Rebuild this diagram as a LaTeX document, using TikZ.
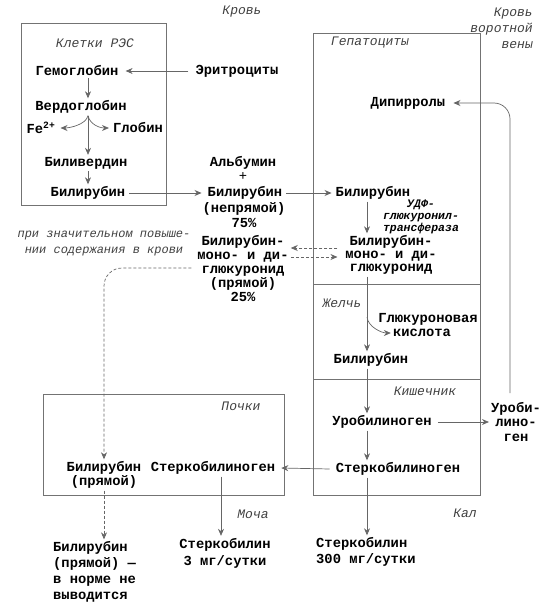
\documentclass[tikz,border=0pt]{standalone}
\usepackage{fontspec}
\setmainfont{Liberation Mono}
\usetikzlibrary{arrows.meta}
\newcommand\mybf{\fontsize{13.8}{14.5}\selectfont\bfseries}
\newcommand\mylab{\fontsize{13}{16}\selectfont\itshape}
\newcommand\mynote{\fontsize{12}{16}\selectfont\itshape}
\newcommand\myudf{\fontsize{11.5}{11.8}\selectfont\bfseries\itshape}
\tikzset{
  t/.style={font=\mybf, inner sep=2pt, align=center},
  lab/.style={font=\mylab, text=black!75, inner sep=1pt},
  box/.style={draw=black!55, line width=0.8pt},
  ln/.style={draw=black!60, line width=0.7pt},
  arr/.style={ln, -{Stealth[length=7pt,width=6pt]}},
  dsh/.style={arr, dash pattern=on 3pt off 2pt},
}
\begin{document}
\begin{tikzpicture}[x=1pt,y=-1pt]
\useasboundingbox (0,0) rectangle (542,613);

% boxes
\draw[box] (21,23) rectangle (166,205);
\draw[box] (313,33) rectangle (480,495);
\draw[box] (313,284) -- (480,284);
\draw[box] (313,379) -- (480,379);
\draw[box] (43,394) rectangle (284,495);

% labels
\node[lab] (krov) at (242,12) {Кровь};
\node[lab, align=right, anchor=east] (portal) at (534,28) {Кровь\\воротной\\вены};
\node[lab] (lres) at (95,43) {Клетки РЭС};
\node[lab] (lhep) at (370,43) {Гепатоциты};
\node[lab] (lbile) at (342,303) {Желчь};
\node[lab] (lint) at (425,391) {Кишечник};
\node[lab] (lkid) at (241,406) {Почки};
\node[lab] (lur) at (253,514) {Моча};
\node[lab] (lfec) at (465,513) {Кал};
\node[lab, font=\mynote, align=center] (note) at (104,244) {при значительном повыше-\\нии содержания в крови};

% RES cells
\node[t] (hb) at (77,71) {Гемоглобин};
\node[t] (ery) at (237,71) {Эритроциты};
\node[t] (vg) at (81,107) {Вердоглобин};
\node[t] (fe) at (41,128) {Fe\textsuperscript{2+}};
\node[t] (glob) at (138,128) {Глобин};
\node[t] (bv) at (86,163) {Биливердин};
\node[t] (br1) at (88,193) {Билирубин};

% blood
\node[t] (alb) at (243,163) {Альбумин};
\node[t, font=\fontsize{13.8}{14.5}\selectfont] (plus) at (243,177) {+};
\node[t] (br2) at (245,193) {Билирубин};
\node[t, font={\fontsize{13.8}{15}\selectfont\bfseries}] (nep) at (244,215) {(непрямой)\\75\%};
\node[t, font={\fontsize{13.8}{14}\selectfont\bfseries}] (conjB) at (243,269) {Билирубин-\\моно- и ди-\\глюкуронид\\(прямой)\\25\%};

% liver
\node[t] (dip) at (408,103) {Дипирролы};
\node[t] (brL) at (373,193) {Билирубин};
\node[font=\myudf, align=center, inner sep=1pt] (udf) at (421,217) {УДФ-\\глюкуронил-\\трансфераза};
\node[t, font={\fontsize{13.8}{13}\selectfont\bfseries}, outer xsep=6pt] (conjL) at (391,255) {Билирубин-\\моно- и ди-\\глюкуронид};
\node[t] (gk1) at (428,319) {Глюкуроновая};
\node[t] (gk2) at (422,333) {кислота};
\node[t] (bile) at (371,360) {Билирубин};
\node[t] (uroG) at (382,422) {Уробилиноген};
\node[t] (stR) at (398,469) {Стеркобилиноген};
\node[t, align=left, anchor=west, font={\fontsize{13.8}{16}\selectfont\bfseries}] (s300) at (314,552) {Стеркобилин\\300 мг/сутки};
\node[t, font={\fontsize{13.8}{14.5}\selectfont\bfseries}] (uro) at (516,422) {Уроби-\\лино-\\ген};

% kidney
\node[t, font={\fontsize{13.8}{14}\selectfont\bfseries}] (kb) at (104,475) {Билирубин\\(прямой)};
\node[t] (kS) at (213,468) {Стеркобилиноген};
\node[t, font={\fontsize{13.8}{17}\selectfont\bfseries}] (st3) at (225,553) {Стеркобилин\\3 мг/сутки};
\node[t, align=left, anchor=west, font={\fontsize{13.8}{16}\selectfont\bfseries}] (ex) at (51,572) {Билирубин\\(прямой) —\\в норме не\\выводится};

% columns
\coordinate (cR) at (88,0);
\coordinate (cL) at (367,0);
\coordinate (cK) at (221,0);

% connectors RES
\draw[arr] ([xshift=-5pt]ery.west) -- ([xshift=5pt]hb.east);
\draw[arr] (hb.south -| cR) -- (vg.north -| cR);
\draw[arr] (vg.south -| cR) -- (bv.north -| cR);
\draw[arr] (vg.south -| cR) .. controls +(-2,9) and +(9,0) .. ([xshift=3pt]fe.east);
\draw[arr] (vg.south -| cR) .. controls +(2,9) and +(-9,0) .. ([xshift=-2pt]glob.west);
\draw[arr] (bv.south -| cR) -- (br1.north -| cR);
\draw[arr] ([xshift=2pt]br1.east) -- ([xshift=-4pt]br2.west);
\draw[arr] ([xshift=2pt]br2.east) -- ([xshift=-2pt]brL.west);

% liver connectors
\draw[arr] (brL.south -| cL) -- (conjL.north -| cL);
\draw[dsh] (conjL.west |- 0,248) -- (conjB.east |- 0,248);
\draw[dsh] (conjB.east |- 0,257) -- (conjL.west |- 0,257);
\draw[arr] (conjL.south -| cL) -- (bile.north -| cL);
\coordinate (gb) at (367,317);
\draw[arr] (gb) .. controls +(1,10) and +(-9,0) .. (gk2.west);
\draw[arr] (bile.south -| cL) -- (uroG.north -| cL);
\draw[arr] (uroG.south -| cL) -- (stR.north -| cL);
\draw[arr] ([xshift=4pt]uroG.east) -- (uro.west);
\draw[arr, rounded corners=16] ([xshift=-6pt,yshift=7pt]uro.north) |- ([xshift=6pt]dip.east);
\draw[arr] ([xshift=-4pt]stR.west) -- ([xshift=4pt]kS.east);
\draw[arr] (stR.south -| cL) -- (s300.north -| cL);

% kidney connectors
\draw[arr] (kS.south -| cK) -- (st3.north -| cK);
\draw[dsh, rounded corners=18] ([xshift=-4pt]conjB.west |- 0,268) -| (kb.north);
\draw[dsh] (kb.south) -- (kb.south |- ex.north);
\end{tikzpicture}
\end{document}
